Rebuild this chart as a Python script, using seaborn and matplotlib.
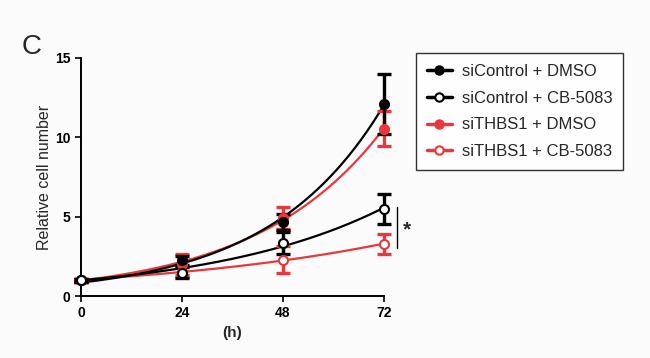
import numpy as np
import matplotlib
matplotlib.use('Agg')
import matplotlib.pyplot as plt
import seaborn as sns
from matplotlib.lines import Line2D

# 数据
hours = [0, 24, 48, 72]
series_names = ['siControl + DMSO', 'siControl + CB-5083',
                'siTHBS1 + DMSO', 'siTHBS1 + CB-5083']
ctrl_dmso = [1.0, 2.25, 4.65, 12.1]
ctrl_dmso_err = [0.1, 0.3, 0.5, 1.9]
ctrl_cb = [1.0, 1.47, 3.35, 5.5]
ctrl_cb_err = [0.1, 0.35, 0.7, 0.95]
thbs_dmso = [1.0, 2.0, 4.9, 10.55]
thbs_dmso_err = [0.1, 0.65, 0.7, 1.1]
thbs_cb = [1.0, 1.5, 2.3, 3.28]
thbs_cb_err = [0.1, 0.3, 0.85, 0.65]

BLACK = '#000000'
RED = '#e8383d'

sns.set_style('ticks')
plt.rcParams['font.family'] = ['Liberation Sans', 'DejaVu Sans']

fig = plt.figure(figsize=(6.5, 3.58), dpi=100)
fig.patch.set_facecolor('#fbfbfb')
ax = fig.add_axes([0.1246, 0.173, 0.466, 0.665])
ax.set_facecolor('#fbfbfb')

styles = [
    (ctrl_dmso, ctrl_dmso_err, BLACK, BLACK),
    (ctrl_cb, ctrl_cb_err, BLACK, 'white'),
    (thbs_dmso, thbs_dmso_err, RED, RED),
    (thbs_cb, thbs_cb_err, RED, 'white'),
]

t_fine = np.linspace(0, 72, 200)
# 先画红色，再画黑色（黑色在上）
order = [2, 3, 0, 1]
for i in order:
    vals, errs, col, face = styles[i]
    x = np.array(hours, dtype=float)
    y = np.array(vals)
    # 指数拟合曲线（近似线性最小二乘）
    k, ln_a = np.polyfit(x, np.log(y), 1, w=y)
    fit = np.exp(ln_a) * np.exp(k * t_fine)
    sns.lineplot(x=t_fine, y=fit, color=col, linewidth=1.6, ax=ax,
                 clip_on=False, zorder=2)
    ax.errorbar(x, y, yerr=errs, fmt='none', ecolor=col, elinewidth=2.4,
                capsize=5, capthick=2.4, clip_on=False, zorder=3)
    ax.plot(x, y, linestyle='none', marker='o', markersize=6.5,
            markerfacecolor=face, markeredgecolor=col, markeredgewidth=1.5,
            clip_on=False, zorder=4)

ax.set_xlim(0, 72)
ax.set_ylim(0, 15)
ax.set_xticks(hours)
ax.set_yticks([0, 5, 10, 15])
ax.tick_params(axis='both', direction='out', length=4, width=1.2,
               labelsize=10, colors='black')
for lab in ax.get_xticklabels() + ax.get_yticklabels():
    lab.set_fontweight('bold')
for s in ['left', 'bottom']:
    ax.spines[s].set_linewidth(1.4)
    ax.spines[s].set_color('black')
sns.despine(ax=ax)

ax.set_xlabel('(h)', fontsize=11, fontweight='bold', labelpad=4)
ax.set_ylabel('Relative cell number', fontsize=11.5, labelpad=2)

# 显著性标记
ax.plot([75.2, 75.2], [3.0, 5.6], color='black', linewidth=1.0, clip_on=False)
ax.text(77.6, 4.2, '*', fontsize=15, fontweight='bold',
        ha='center', va='center')

# 图例
handles = []
for vals, errs, col, face in styles:
    handles.append(Line2D([0], [0], color=col, linewidth=2.5, marker='o',
                          markersize=6, markerfacecolor=face,
                          markeredgecolor=col, markeredgewidth=1.5))
leg = fig.legend(handles, series_names, loc='upper left',
                 bbox_to_anchor=(0.640, 0.852), fontsize=12,
                 frameon=True, fancybox=False, handlelength=1.5,
                 handletextpad=0.6, borderpad=0.65, labelspacing=0.71,
                 borderaxespad=0)
leg.get_frame().set_edgecolor('black')
leg.get_frame().set_linewidth(1.0)
leg.get_frame().set_facecolor('white')

fig.text(0.033, 0.87, 'C', fontsize=20, ha='left', va='center')

fig.savefig('out.png', dpi=100, facecolor=fig.get_facecolor())
